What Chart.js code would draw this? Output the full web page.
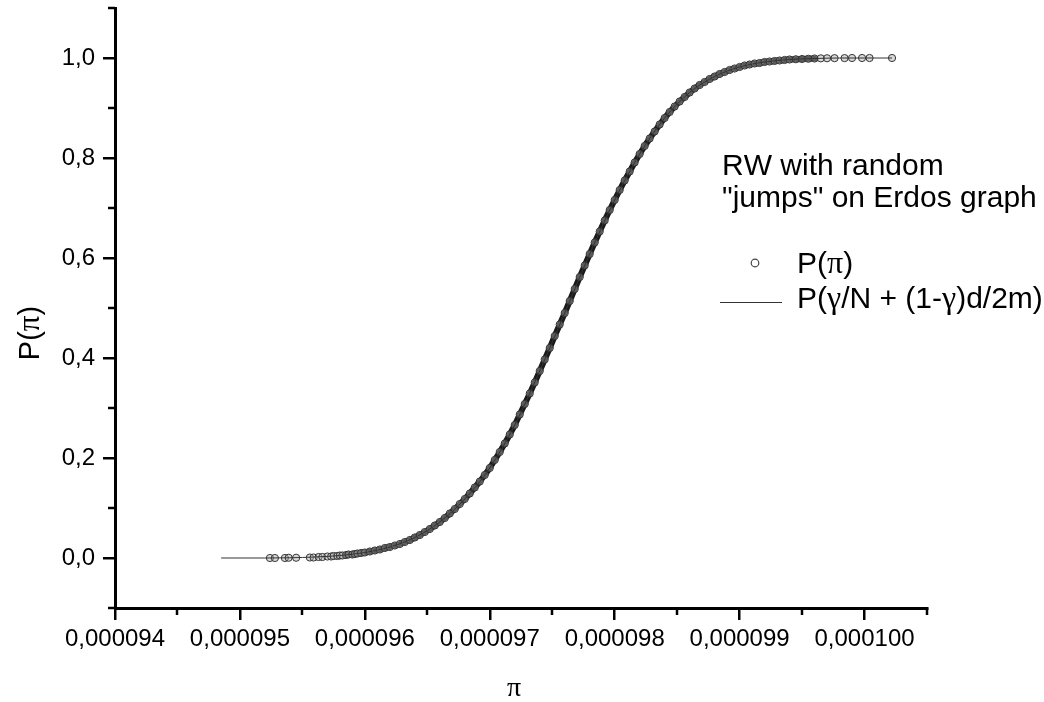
<!DOCTYPE html>
<html>
<head>
<meta charset="utf-8">
<script src="https://cdn.jsdelivr.net/npm/chart.js@4.4.0/dist/chart.umd.min.js"></script>
<style>
html,body{margin:0;padding:0;background:#fff;}
#wrap{width:1044px;height:702px;position:relative;}
</style>
</head>
<body>
<div id="wrap"><canvas id="c" width="1044" height="702"></canvas></div>
<script>
// ---- data (pi values in units of 1e-6) ----
const SCALE = 1e-6;
const circlePi = [
  95.24, 95.28, 95.36, 95.39, 95.45, 95.56, 95.59, 95.63, 95.66, 95.70, 95.73, 95.75, 95.78, 95.80, 95.82, 95.85, 95.87, 95.90, 95.92, 95.94, 95.97,
  96.00, 96.04, 96.08, 96.12, 96.16, 96.20, 96.24, 96.28, 96.32, 96.36, 96.40, 96.44, 96.48, 96.52, 96.56, 96.60, 96.64, 96.68, 96.72, 96.76,
  96.80, 96.84, 96.88, 96.92, 96.96, 97.00, 97.04, 97.08, 97.12, 97.16, 97.20, 97.24, 97.28, 97.32, 97.36, 97.40, 97.44, 97.48, 97.52, 97.56,
  97.60, 97.64, 97.68, 97.72, 97.76, 97.80, 97.84, 97.88, 97.92, 97.96, 98.00, 98.04, 98.08, 98.12, 98.16, 98.20, 98.24, 98.28, 98.32, 98.36,
  98.40, 98.44, 98.48, 98.52, 98.56, 98.60, 98.64, 98.68, 98.72, 98.76, 98.80, 98.84, 98.88, 98.92, 98.96, 99.00, 99.04, 99.08, 99.12, 99.16,
  99.20, 99.24, 99.28, 99.32, 99.36, 99.40,
  99.45, 99.50, 99.55, 99.60, 99.65, 99.70, 99.76, 99.84, 99.90, 99.98, 100.04, 100.22
];
const circleP = [
  0, 0, 0, 0.0005, 0.0005, 0.001, 0.001, 0.002, 0.002, 0.003, 0.003, 0.004, 0.004, 0.005, 0.005, 0.006, 0.007, 0.007, 0.008, 0.009, 0.010,
  0.011, 0.013, 0.015, 0.017, 0.020, 0.022, 0.025, 0.028, 0.032, 0.036, 0.041, 0.046, 0.052, 0.058, 0.065, 0.072, 0.080, 0.089, 0.098, 0.108,
  0.118, 0.129, 0.141, 0.153, 0.166, 0.180, 0.196, 0.212, 0.229, 0.247, 0.266, 0.287, 0.308, 0.329, 0.351, 0.374, 0.397, 0.420, 0.444, 0.467,
  0.490, 0.514, 0.538, 0.562, 0.585, 0.608, 0.631, 0.653, 0.675, 0.696, 0.716, 0.736, 0.755, 0.773, 0.791, 0.808, 0.824, 0.839, 0.853, 0.867,
  0.880, 0.892, 0.903, 0.913, 0.922, 0.931, 0.939, 0.946, 0.952, 0.958, 0.963, 0.968, 0.972, 0.976, 0.979, 0.982, 0.985, 0.987, 0.989, 0.990,
  0.992, 0.993, 0.994, 0.995, 0.996, 0.997,
  0.9975, 0.998, 0.9985, 0.999, 0.9993, 0.9995, 0.9997, 0.9998, 1, 1, 1, 1
];
const linePi = [94.85, 95.0, 95.2, 95.4, 95.6, 95.8, 96.0, 96.2, 96.4, 96.6, 96.8, 97.0, 97.2, 97.4, 97.6, 97.8, 98.0, 98.2, 98.4, 98.6, 98.8, 99.0, 99.2, 99.4, 99.6, 99.8, 100.0, 100.22];
const lineP  = [0, 0, 0, 0.0005, 0.002, 0.005, 0.011, 0.022, 0.041, 0.072, 0.118, 0.180, 0.266, 0.374, 0.490, 0.608, 0.716, 0.808, 0.880, 0.931, 0.963, 0.982, 0.992, 0.997, 0.999, 1.0, 1.0, 1.0];

const xTickPi = [94, 95, 96, 97, 98, 99, 100];
const xTickLabels = ['0,000094', '0,000095', '0,000096', '0,000097', '0,000098', '0,000099', '0,000100'];
const xMinorPi = [94.5, 95.5, 96.5, 97.5, 98.5, 99.5, 100.5];
const yTickValues = [0, 0.2, 0.4, 0.6, 0.8, 1.0];
const yTickLabels = ['0,0', '0,2', '0,4', '0,6', '0,8', '1,0'];
const yMinorValues = [-0.1, 0.1, 0.3, 0.5, 0.7, 0.9, 1.1];

const seriesNames = ['P(π)', 'P(γ/N + (1-γ)d/2m)'];
const noteLines = ['RW with random', '"jumps" on Erdos graph'];
const xTitle = 'π';
const yTitle = 'P(π)';

// ---- build ----
const circleData = circlePi.map((v, i) => ({ x: v * SCALE, y: circleP[i] }));
const lineData = linePi.map((v, i) => ({ x: v * SCALE, y: lineP[i] }));

const SANS = '"Liberation Sans", Arial, sans-serif';
const SERIF = '"Liberation Serif", "Times New Roman", serif';

function richWidth(ctx, text, size) {
  let w = 0;
  for (const ch of text) {
    const greek = /[πγ]/.test(ch);
    ctx.font = (greek ? size + 2 : size) + 'px ' + (greek ? SERIF : SANS);
    w += ctx.measureText(ch).width;
  }
  return w;
}
function drawRich(ctx, text, x, y, size) {
  let cx = x;
  for (const ch of text) {
    const greek = /[πγ]/.test(ch);
    ctx.font = (greek ? size + 2 : size) + 'px ' + (greek ? SERIF : SANS);
    ctx.fillText(ch, cx, y);
    cx += ctx.measureText(ch).width;
  }
}

const decor = {
  id: 'decor',
  afterDraw(chart) {
    const ctx = chart.ctx;
    const xs = chart.scales.x, ys = chart.scales.y;
    ctx.save();
    // minor ticks
    ctx.strokeStyle = '#000';
    ctx.lineWidth = 2.5;
    xMinorPi.forEach(v => {
      const px = Math.round(xs.getPixelForValue(v * SCALE));
      ctx.beginPath(); ctx.moveTo(px, xs.top); ctx.lineTo(px, xs.top + 7); ctx.stroke();
    });
    yMinorValues.forEach(v => {
      const py = Math.round(ys.getPixelForValue(v));
      ctx.beginPath(); ctx.moveTo(ys.right, py); ctx.lineTo(ys.right - 7, py); ctx.stroke();
    });
    ctx.fillStyle = '#000';
    ctx.textBaseline = 'middle';
    ctx.textAlign = 'left';
    // axis titles
    const xw = richWidth(ctx, xTitle, 26);
    drawRich(ctx, xTitle, 514 - xw / 2, 689, 26);
    ctx.save();
    ctx.translate(31, 333);
    ctx.rotate(-Math.PI / 2);
    const yw = richWidth(ctx, yTitle, 29);
    drawRich(ctx, yTitle, -yw / 2, 0, 29);
    ctx.restore();
    // annotation text
    noteLines.forEach((t, i) => drawRich(ctx, t, 722, 167 + i * 32, 30));
    // legend
    ctx.strokeStyle = '#444';
    ctx.lineWidth = 1.2;
    ctx.beginPath(); ctx.arc(755, 263, 3.8, 0, Math.PI * 2); ctx.stroke();
    drawRich(ctx, seriesNames[0], 797, 265, 30);
    ctx.strokeStyle = '#333';
    ctx.lineWidth = 1;
    ctx.beginPath(); ctx.moveTo(720, 302.5); ctx.lineTo(782, 302.5); ctx.stroke();
    drawRich(ctx, seriesNames[1], 797, 300, 30);
    ctx.restore();
  }
};

new Chart(document.getElementById('c'), {
  type: 'scatter',
  data: {
    datasets: [
      {
        label: seriesNames[1],
        data: lineData,
        showLine: true,
        borderColor: '#333',
        borderWidth: 1,
        pointRadius: 0,
        cubicInterpolationMode: 'monotone',
        order: 0
      },
      {
        label: seriesNames[0],
        data: circleData,
        showLine: true,
        borderWidth: 6,
        borderCapStyle: 'round',
        borderJoinStyle: 'round',
        borderColor: '#1a1a1a',
        segment: {
          borderColor: c => (c.p0.parsed.x >= 95.84e-6 && c.p0.parsed.x < 99.6e-6) ? '#1a1a1a' : 'rgba(0,0,0,0)'
        },
        pointRadius: 3.6,
        pointBorderWidth: 1,
        pointBorderColor: '#333',
        pointBackgroundColor: 'rgba(170,170,170,0.45)',
        order: 1
      }
    ]
  },
  options: {
    responsive: false,
    animation: false,
    devicePixelRatio: 1,
    layout: { padding: { top: 8, right: 117, left: 0, bottom: 0 } },
    plugins: { legend: { display: false }, tooltip: { enabled: false } },
    scales: {
      x: {
        type: 'linear',
        position: 'bottom',
        min: 94 * SCALE,
        max: 100.5 * SCALE,
        afterBuildTicks: s => { s.ticks = xTickPi.map(v => ({ value: v * SCALE })); },
        afterFit: s => { s.height = 94; s.paddingLeft = 0; s.paddingRight = 0; },
        ticks: {
          callback: (v, i) => xTickLabels[i],
          autoSkip: false, maxRotation: 0,
          font: { family: SANS, size: 24 },
          color: '#000', padding: 5
        },
        grid: { drawOnChartArea: false, drawTicks: true, tickLength: 12, color: '#000', lineWidth: 2.5 },
        border: { display: true, color: '#000', width: 3 },
        title: { display: false, text: xTitle }
      },
      y: {
        type: 'linear',
        min: -0.1,
        max: 1.1,
        afterBuildTicks: s => { s.ticks = yTickValues.map(v => ({ value: v })); },
        afterFit: s => { s.width = 115; s.paddingTop = 0; s.paddingBottom = 0; },
        ticks: {
          callback: (v, i) => yTickLabels[i],
          autoSkip: false,
          font: { family: SANS, size: 24 },
          color: '#000', padding: 8
        },
        grid: { drawOnChartArea: false, drawTicks: true, tickLength: 12, color: '#000', lineWidth: 2.5 },
        border: { display: true, color: '#000', width: 3 },
        title: { display: false, text: yTitle }
      }
    }
  },
  plugins: [decor]
});
</script>
</body>
</html>
